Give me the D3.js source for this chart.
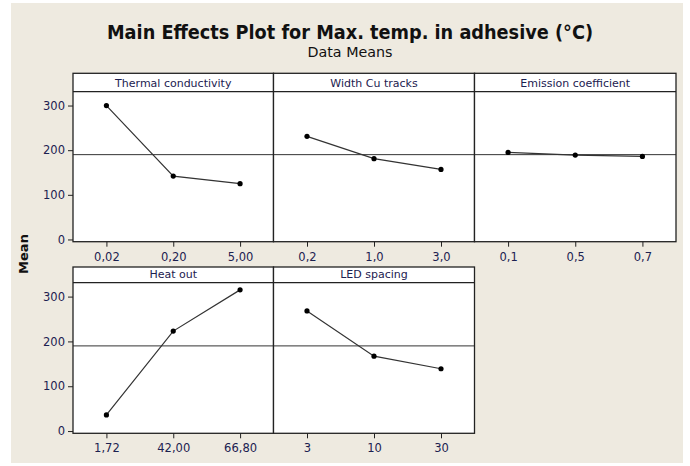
<!DOCTYPE html>
<html>
<head>
<meta charset="utf-8">
<script src="https://cdn.jsdelivr.net/npm/d3@7"></script>
<style>
  html, body { margin: 0; padding: 0; background: #fff; }
  svg { display: block; }
  text { font-family: "DejaVu Sans", Verdana, sans-serif; }
</style>
</head>
<body>
<svg id="chart" width="690" height="466"></svg>
<script>
// factor names, their levels and the mean response at each level
const factors = ["Thermal conductivity", "Width Cu tracks", "Emission coefficient", "Heat out", "LED spacing"];
const levels = [
  ["0,02", "0,20", "5,00"],
  ["0,2", "1,0", "3,0"],
  ["0,1", "0,5", "0,7"],
  ["1,72", "42,00", "66,80"],
  ["3", "10", "30"]
];
const means = [
  [300, 142, 125],
  [231, 181, 157],
  [195, 189, 186],
  [36, 223, 315],
  [268, 167, 139]
];
const grandMean = 190;
const yTicks = [0, 100, 200, 300];
const yDomain = [-5, 331];

const svg = d3.select("#chart");
const textCol = "#1c2150";

// beige backdrop
svg.append("rect").attr("x", 11).attr("y", 3).attr("width", 672).attr("height", 460).attr("fill", "#eeeae0");

// title + subtitle, squeezed to the reference widths (original font is narrower)
svg.append("text").attr("x", 350).attr("y", 39).attr("text-anchor", "middle")
  .attr("font-weight", "bold").attr("fill", "#111").style("font-size", "20px")
  .attr("textLength", 486).attr("lengthAdjust", "spacingAndGlyphs")
  .text("Main Effects Plot for Max. temp. in adhesive (°C)");
svg.append("text").attr("x", 350).attr("y", 57).attr("text-anchor", "middle")
  .attr("fill", "#111").style("font-size", "14px")
  .attr("textLength", 85).attr("lengthAdjust", "spacingAndGlyphs")
  .text("Data Means");

// y label
svg.append("text").attr("transform", "translate(28,254) rotate(-90)").attr("text-anchor", "middle")
  .attr("font-weight", "bold").style("font-size", "13px").attr("fill", "#111").text("Mean");

const colX = [73, 273.5, 474.5, 676];
const rows = [
  { top: 73.3, strip: 91.7, bottom: 241.7 },
  { top: 267, strip: 282.7, bottom: 433.3 }
];

factors.forEach(function(name, i) {
  var r = rows[Math.floor(i / 3)];
  var c = i % 3;
  var x0 = colX[c], x1 = colX[c + 1];
  var g = svg.append("g");

  var x = d3.scalePoint().domain(levels[i]).range([x0, x1]).padding(0.5);
  var y = d3.scaleLinear().domain(yDomain).range([r.bottom, r.strip]);

  g.append("rect").attr("x", x0).attr("y", r.top).attr("width", x1 - x0).attr("height", r.bottom - r.top)
    .attr("fill", "#fff");

  // grand mean reference
  g.append("line").attr("x1", x0).attr("x2", x1).attr("y1", y(grandMean)).attr("y2", y(grandMean))
    .attr("stroke", "#333").attr("stroke-width", 1);

  var xAxis = g.append("g").attr("transform", "translate(0," + r.bottom + ")")
    .call(d3.axisBottom(x).tickSize(5).tickPadding(6));
  xAxis.select(".domain").remove();
  xAxis.selectAll("line").attr("stroke", "#222");
  xAxis.selectAll("text").style("font-size", "11.5px").style("font-family", "DejaVu Sans").attr("fill", textCol);

  if (c == 0) {
    var yAxis = g.append("g").attr("transform", "translate(" + x0 + ",0)")
      .call(d3.axisLeft(y).tickValues(yTicks).tickSize(5).tickPadding(3));
    yAxis.select(".domain").remove();
    yAxis.selectAll("line").attr("stroke", "#222");
    yAxis.selectAll("text").style("font-size", "11.5px").style("font-family", "DejaVu Sans").attr("fill", textCol);
  }

  var line = d3.line().x(function(d, k) { return x(levels[i][k]); }).y(function(d) { return y(d); });
  g.append("path").attr("d", line(means[i])).attr("fill", "none").attr("stroke", "#333").attr("stroke-width", 1.2);
  g.selectAll("circle").data(means[i]).enter().append("circle")
    .attr("cx", function(d, k) { return x(levels[i][k]); })
    .attr("cy", function(d) { return y(d); })
    .attr("r", 2.6).attr("fill", "#000");

  // strip header
  g.append("line").attr("x1", x0).attr("x2", x1).attr("y1", r.strip).attr("y2", r.strip)
    .attr("stroke", "#222").attr("stroke-width", 1.3);
  g.append("text").attr("x", (x0 + x1) / 2).attr("y", r.strip - 5).attr("text-anchor", "middle")
    .style("font-size", "11px").attr("fill", textCol).text(name);

  g.append("rect").attr("x", x0).attr("y", r.top).attr("width", x1 - x0).attr("height", r.bottom - r.top)
    .attr("fill", "none").attr("stroke", "#222").attr("stroke-width", 1.3);
});
</script>
</body>
</html>
